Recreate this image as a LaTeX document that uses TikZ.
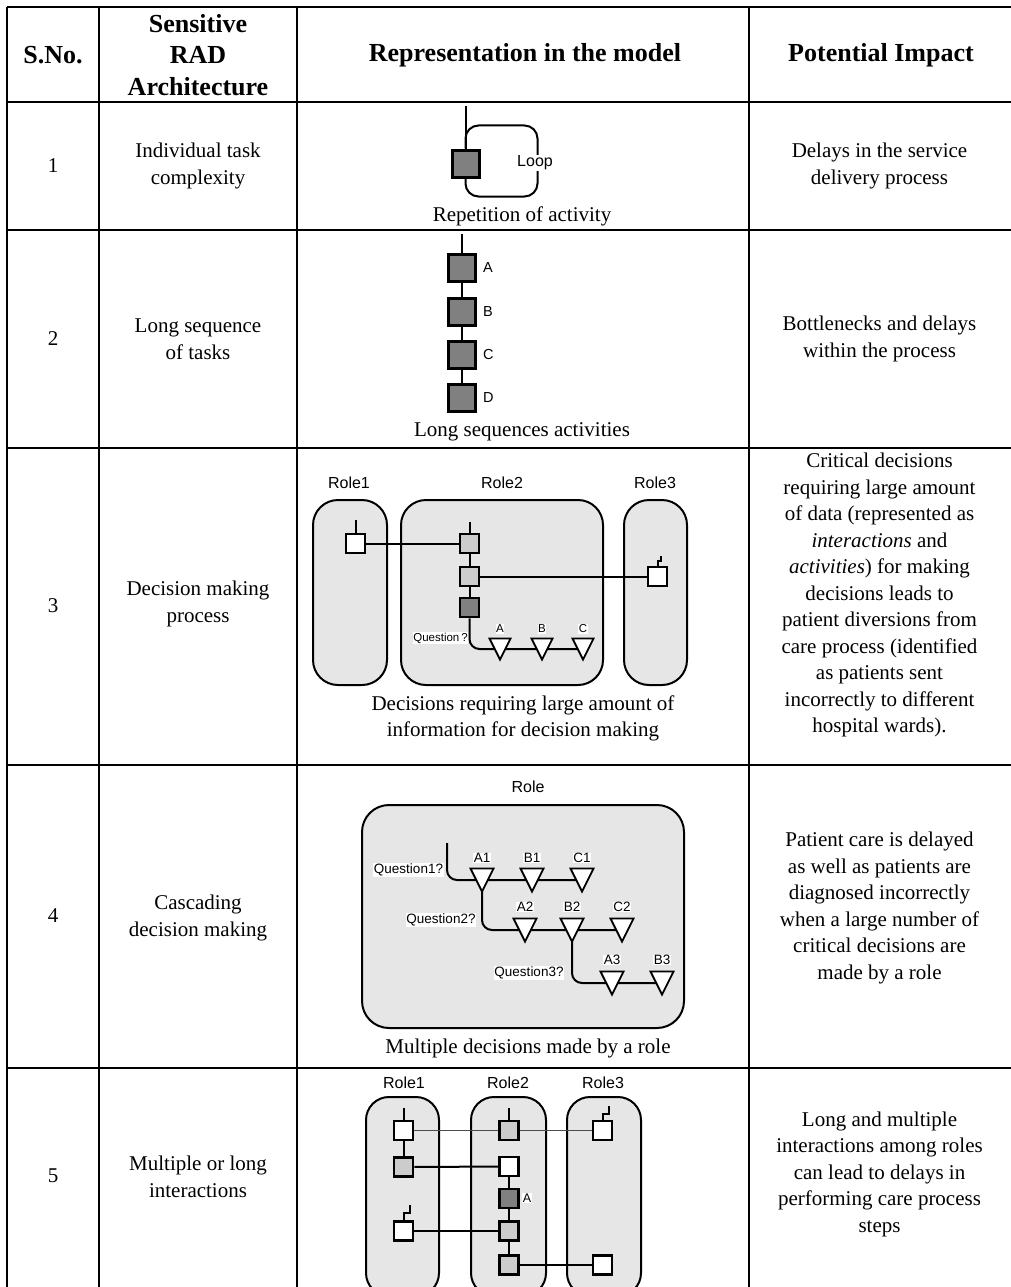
\documentclass[tikz,border=0pt]{standalone}
\usepackage{fontspec}
\setmainfont{Liberation Serif}
\newfontfamily\arial{Liberation Sans}
\usetikzlibrary{calc}
\definecolor{actgray}{RGB}{128,128,128}
\definecolor{hatch}{RGB}{204,204,204}
\definecolor{lanefill}{RGB}{230,230,230}
\newcommand\drawtri[2]{\draw[tri] (#1) ++(-#2,-#2) -- ++({2*#2},0) -- ++(-#2,{2*#2}) -- cycle;}
\begin{document}
\begin{tikzpicture}[x=1pt,y=-1pt,
  grid/.style={line width=2pt},
  body/.style={font=\fontsize{21}{26.5}\selectfont, align=center, inner sep=0},
  head/.style={font=\bfseries\fontsize{26}{31.5}\selectfont, align=center, inner sep=0},
  ln/.style={line width=2pt},
  thinln/.style={line width=1.6pt, draw=black!70},
  bigact/.style={draw, line width=3pt, fill=actgray, minimum size=27pt, inner sep=0},
  act/.style={draw, line width=2.6pt, minimum size=19pt, inner sep=0},
  wbox/.style={act, fill=white},
  hbox/.style={act, fill=hatch},
  dbox/.style={act, fill=actgray},
  lanebox/.style={draw, line width=2pt, fill=lanefill, inner sep=0},
  rl/.style={font=\arial\fontsize{16}{16}\selectfont, inner sep=0},
  al/.style={font=\arial\fontsize{14.5}{14.5}\selectfont, inner sep=0},
  ql/.style={font=\arial\fontsize{13.5}{13.5}\selectfont, fill=white, inner sep=0.6pt},
  sl/.style={font=\arial\fontsize{11.5}{11.5}\selectfont, fill=white, inner sep=0.6pt},
  tri/.style={draw, line width=1.8pt, fill=white, line join=miter}
]
\useasboundingbox (0,0) rectangle (1010,1287);

% ---------- grid ----------
\foreach \yy in {7,102,230,448,765,1068}
  \draw[grid] (7,\yy) -- (1012,\yy);
\foreach \xx in {7,99,297,749}
  \draw[grid] (\xx,7) -- (\xx,1295);

% ---------- header ----------
\node[head] (h1) at (53,55) {S.No.};
\node[head] (h2) at (198,55) {Sensitive\\RAD\\Architecture};
\node[head] (h3) at (525,55) {Representation in the model};
\node[head] (h4) at (881,55) {Potential Impact};

% ---------- row 1 ----------
\node[body] (n1) at (53,166) {1};
\node[body] (a1) at (198,166) {Individual task\\complexity};
\node[body] (p1) at (879.5,166) {Delays in the service\\delivery process};
\node[bigact] (act1) at (465.5,163.5) {};
\coordinate (t1) at (465.5,106);
\draw[ln] (t1) -- (act1.north);
\draw[ln, rounded corners=13pt] (act1.north) -- ++(0,-23) -- ++(72,0) -- ++(0,71) -- ++(-72,0) -- (act1.south);
\node[font=\arial\fontsize{16}{16}\selectfont, fill=white, inner sep=1pt] (loop) at (535,163) {Loop};
\node[body] (c1) at (522,216) {Repetition of activity};

% ---------- row 2 ----------
\node[body] (n2) at (53,339) {2};
\node[body] (a2) at (198,339) {Long sequence\\of tasks};
\node[body] (p2) at (879.5,339) {Bottlenecks and delays\\within the process};
\node[bigact] (sA) at (462,268) {};
\node[bigact] (sB) at (462,311.5) {};
\node[bigact] (sC) at (462,355) {};
\node[bigact] (sD) at (462,398) {};
\coordinate (t2) at (462,234);
\draw[ln] (t2) -- (sA) -- (sB) -- (sC) -- (sD);
\node[al, anchor=west] (lA) at (483,268) {A};
\node[al, anchor=west] (lB) at (483,311.5) {B};
\node[al, anchor=west] (lC) at (483,355) {C};
\node[al, anchor=west] (lD) at (483,398) {D};
\node[body] (c2) at (522,432) {Long sequences activities};

% ---------- row 3 ----------
\node[body] (n3) at (53,606) {3};
\node[body] (a3) at (198,604) {Decision making\\process};
\node[body] (p3) at (879.5,595) {Critical decisions\\requiring large amount\\of data (represented as\\\textit{interactions} and\\\textit{activities}) for making\\decisions leads to\\patient diversions from\\care process (identified\\as patients sent\\incorrectly to different\\hospital wards).};
\node[lanebox, rounded corners=25pt, minimum width=74pt, minimum height=185pt] (L31) at (350,592.5) {};
\node[lanebox, rounded corners=25pt, minimum width=202pt, minimum height=185pt] (L32) at (502,592.5) {};
\node[lanebox, rounded corners=25pt, minimum width=63pt, minimum height=185pt] (L33) at (655.5,592.5) {};
\node[rl] (R31) at (349,483) {Role1};
\node[rl] (R32) at (502,483) {Role2};
\node[rl] (R33) at (655,483) {Role3};
\node[wbox] (r3a) at (355.5,543.5) {};
\node[hbox] (r3b) at (469.5,543.5) {};
\node[hbox] (r3c) at (469.5,576.5) {};
\node[dbox] (r3d) at (469.5,607.5) {};
\node[wbox] (r3e) at (657.5,576.5) {};
\coordinate (t3a) at (355.5,520);
\coordinate (t3b) at (469.5,522);
\draw[ln] (t3a) -- (r3a.north);
\draw[ln] (t3b) -- (r3b.north);
\draw[ln] (r3b) -- (r3c) -- (r3d);
\draw[ln] (r3a) -- (r3b);
\draw[ln] (r3c) -- (r3e);
\draw[ln] (r3e.north) -- ++(0,-5) -- ++(3,0) -- ++(0,-5);
\coordinate (tA) at (500,649);
\coordinate (tB) at (542,649);
\coordinate (tC) at (583,649);
\draw[ln, rounded corners=10pt] (r3d.south) -- (r3d.south |- tA) -- (tC);
\drawtri{tA}{10.5}
\drawtri{tB}{10.5}
\drawtri{tC}{10.5}
\node[sl] (q3) at (440.5,638) {Question\,?};
\node[sl] (q3A) at (500,629) {A};
\node[sl] (q3B) at (542,629) {B};
\node[sl] (q3C) at (583,629) {C};
\node[body] (c3) at (523,718.5) {Decisions requiring large amount of\\information for decision making};

% ---------- row 4 ----------
\node[body] (n4) at (53,916) {4};
\node[body] (a4) at (198,918) {Cascading\\decision making};
\node[body] (p4) at (879.5,908) {Patient care is delayed\\as well as patients are\\diagnosed incorrectly\\when a large number of\\critical decisions are\\made by a role};
\node[rl] (R4) at (528,787) {Role};
\node[lanebox, rounded corners=27pt, minimum width=322pt, minimum height=223pt] (L4) at (523,916.5) {};
\coordinate (q1s) at (447,843);
\coordinate (A1) at (482,880);
\coordinate (B1) at (532,880);
\coordinate (C1) at (582,880);
\coordinate (A2) at (525,930);
\coordinate (B2) at (572,930);
\coordinate (C2) at (622,930);
\coordinate (A3) at (612,983);
\coordinate (B3) at (662,983);
\draw[ln, rounded corners=10pt] (q1s) -- (q1s |- A1) -- (C1);
\draw[ln, rounded corners=10pt] (A1) -- (A1 |- A2) -- (C2);
\draw[ln, rounded corners=10pt] (B2) -- (B2 |- A3) -- (B3);
\foreach \t in {A1,B1,C1,A2,B2,C2,A3,B3} {\drawtri{\t}{11.5}}
\node[ql] (lA1) at (482,858) {A1};
\node[ql] (lB1) at (532,858) {B1};
\node[ql] (lC1) at (582,858) {C1};
\node[ql] (lA2) at (525,907) {A2};
\node[ql] (lB2) at (572,907) {B2};
\node[ql] (lC2) at (622,907) {C2};
\node[ql] (lA3) at (612,960) {A3};
\node[ql] (lB3) at (662,960) {B3};
\node[ql] (Q1) at (408.5,870) {Question1?};
\node[ql] (Q2) at (441,920) {Question2?};
\node[ql] (Q3) at (529,973) {Question3?};
\node[body] (c4) at (528,1048) {Multiple decisions made by a role};

% ---------- row 5 ----------
\node[body] (n5) at (53,1176) {5};
\node[body] (a5) at (198,1177) {Multiple or long\\interactions};
\node[body] (p5) at (879.5,1174) {Long and multiple\\interactions among roles\\can lead to delays in\\performing care process\\steps};
\node[lanebox, rounded corners=23pt, minimum width=73pt, minimum height=199pt] (L51) at (402.5,1196.5) {};
\node[lanebox, rounded corners=23pt, minimum width=75pt, minimum height=199pt] (L52) at (508.5,1196.5) {};
\node[lanebox, rounded corners=23pt, minimum width=74pt, minimum height=199pt] (L53) at (604,1196.5) {};
\node[rl] (R51) at (404,1083) {Role1};
\node[rl] (R52) at (508,1083) {Role2};
\node[rl] (R53) at (603,1083) {Role3};
\node[wbox] (r5a) at (403.5,1130.5) {};
\node[hbox] (r5b) at (403.5,1167) {};
\node[wbox] (r5c) at (403.5,1231) {};
\node[hbox] (r5d) at (509,1130.5) {};
\node[wbox] (r5e) at (509,1166.5) {};
\node[dbox] (r5f) at (509,1198.5) {};
\node[hbox] (r5g) at (509,1231) {};
\node[hbox] (r5h) at (509,1265) {};
\node[wbox] (r5i) at (602.5,1130.5) {};
\node[wbox] (r5j) at (602.5,1265) {};
\coordinate (t5a) at (403.5,1108);
\coordinate (t5d) at (509,1108);
\draw[ln] (t5a) -- (r5a.north);
\draw[ln] (t5d) -- (r5d.north);
\draw[ln] (r5i.north) -- ++(0,-6) -- ++(6,0) -- ++(0,-8);
\draw[ln] (r5c.north) -- ++(0,-7) -- ++(6,0) -- ++(0,-8);
\draw[ln] (r5a) -- (r5b);
\draw[ln] (r5e) -- (r5f) -- (r5g) -- (r5h);
\draw[thinln] (r5a) -- (r5d) -- (r5i);
\draw[ln] (r5b) -- (r5e);
\draw[ln] (r5c) -- (r5g);
\draw[ln] (r5h) -- (r5j);
\node[sl, font=\arial\fontsize{12.5}{12.5}\selectfont] (l5A) at (527,1198) {A};
\end{tikzpicture}
\end{document}
